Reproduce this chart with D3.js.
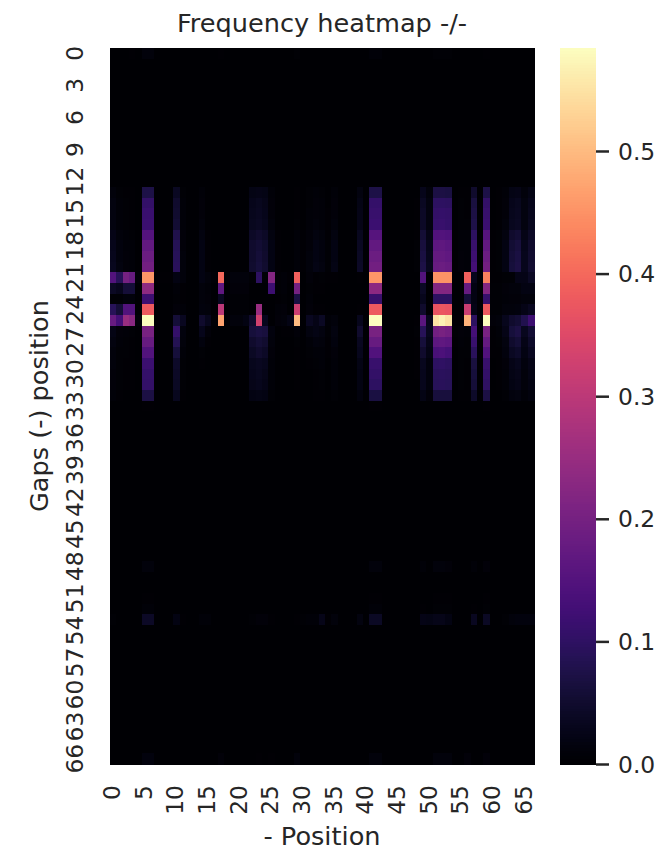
<!DOCTYPE html>
<html><head><meta charset="utf-8">
<script src="https://cdn.jsdelivr.net/npm/d3@7"></script>
<style>html,body{margin:0;padding:0;background:#fff}svg{display:block}text{font-family:"DejaVu Sans";fill:#262626}</style>
</head><body><svg id="c" width="664" height="850"></svg>
<script>
const title = "Frequency heatmap -/-";
const xTitle = "- Position";
const yTitle = "Gaps (-) position";
const nCells = 67;
const xTickValues = [0,5,10,15,20,25,30,35,40,45,50,55,60,65];
const yTickValues = [0,3,6,9,12,15,18,21,24,27,30,33,36,39,42,45,48,51,54,57,60,63,66];
const cbarTicks = [0,0.1,0.2,0.3,0.4,0.5];
const vmax = 0.584;
// cell values, thousandths, one list per non-empty row (columns 0..66, grouped by ten)
const row0  = [0,0,0,3,1,12,12,0,0,0, 0,0,0,0,0,0,0,4,0,0, 0,0,1,1,1,0,0,0,0,5, 0,0,0,0,0,0,0,0,0,1, 0,8,8,0,0,0,0,0,0,2, 1,5,5,5,0,0,1,2,0,3, 0,0,0,0,0,0,0];
const row12 = [1,0,0,0,0,2,2,0,0,0, 1,0,0,0,0,0,0,0,0,0, 0,0,1,1,1,0,0,0,0,0, 0,0,0,0,0,0,0,0,0,0, 0,2,2,0,0,0,0,0,0,1, 0,2,2,2,0,0,0,1,0,2, 0,0,0,1,1,0,1];
const row13 = [12,6,4,3,0,75,75,0,0,0, 38,5,0,0,8,2,1,1,1,1, 1,1,21,25,21,8,2,1,1,3, 1,5,8,6,2,8,0,0,0,17, 0,75,75,0,0,0,0,1,2,29, 13,72,72,70,2,4,3,50,0,75, 2,3,8,21,25,13,21];
const row14 = [16,8,5,4,1,105,105,0,0,0, 50,7,0,0,10,2,1,1,1,1, 1,1,28,32,26,10,2,1,1,4, 1,6,10,8,2,10,0,0,0,22, 0,108,108,0,0,0,0,1,3,38, 16,100,100,98,2,5,4,68,0,105, 2,3,10,28,32,16,28];
const row15 = [17,8,6,4,1,115,115,0,0,0, 52,7,0,0,11,2,1,1,1,1, 1,1,30,35,28,11,2,1,1,4, 1,7,11,9,3,11,0,0,0,24, 0,112,112,0,0,0,0,1,3,42, 18,105,108,105,2,6,4,72,0,112, 2,3,11,30,35,18,30];
const row16 = [18,9,6,4,1,118,118,0,0,0, 55,8,0,0,12,2,1,1,1,1, 1,1,32,38,30,12,2,1,1,5, 2,7,12,9,3,12,0,0,0,25, 0,118,118,0,0,0,0,1,3,42, 18,110,112,108,2,6,5,76,0,118, 2,4,12,32,38,18,32];
const row17 = [25,12,8,6,1,152,152,0,0,0, 78,10,0,0,16,3,2,1,1,2, 1,1,42,50,42,16,3,2,2,7, 3,10,16,12,4,16,1,0,0,34, 0,155,155,0,0,0,0,2,4,58, 25,148,150,145,3,8,7,100,0,155, 3,5,16,48,56,25,42];
const row18 = [28,14,9,7,1,172,172,0,0,0, 88,11,0,0,19,4,2,2,2,2, 2,2,48,56,46,19,4,2,2,8, 3,11,19,14,5,19,1,0,0,38, 0,172,172,0,0,0,0,2,5,66, 28,165,168,160,4,9,7,114,0,172, 4,6,19,56,66,28,50];
const row19 = [30,15,10,8,1,185,185,0,0,0, 90,12,0,0,20,4,2,2,2,2, 2,2,50,60,50,20,4,2,2,8, 3,12,20,15,5,20,1,0,0,40, 0,185,185,0,0,0,0,2,5,70, 30,175,175,170,4,10,8,120,0,185, 4,6,20,60,70,30,52];
const row20 = [32,16,10,8,1,195,195,0,0,0, 92,12,0,0,20,4,2,2,2,2, 2,2,52,62,52,20,4,2,2,9, 3,12,21,16,6,22,1,0,0,42, 0,195,195,0,0,0,0,2,5,74, 32,182,185,178,4,10,8,128,0,195, 4,6,20,62,72,30,54];
const row21 = [150,90,200,180,10,455,455,3,3,3, 20,12,0,0,20,12,5,400,5,12, 12,12,5,100,5,220,6,8,3,390, 0,10,3,6,4,4,0,0,0,4, 0,455,455,0,0,0,0,1,2,150, 0,450,450,450,0,0,390,30,0,430, 3,3,5,5,25,25,40];
const row22 = [40,30,60,60,2,235,235,2,2,2, 8,4,0,0,12,8,2,170,2,10, 10,10,0,0,0,120,6,8,0,200, 0,6,3,3,1,1,0,0,0,2, 0,232,232,0,0,0,0,0,1,40, 0,220,220,220,0,0,180,20,0,220, 5,5,10,12,12,20,20];
const row23 = [5,5,12,12,0,120,120,1,1,1, 6,3,0,0,12,10,1,35,1,6, 6,6,0,0,0,0,4,6,0,70, 0,8,2,2,1,1,0,0,0,2, 0,112,112,0,0,0,0,0,1,30, 0,100,100,100,0,0,60,20,0,110, 5,5,8,10,10,12,12];
const row24 = [90,60,150,150,2,380,380,1,1,1, 10,8,0,0,15,12,2,300,1,5, 5,5,0,250,0,0,8,10,2,320, 0,10,3,3,1,1,0,0,0,3, 0,380,380,0,0,0,0,0,1,50, 0,370,375,370,0,0,320,25,0,380, 6,6,12,12,15,25,35];
const row25 = [180,130,250,230,10,584,584,2,2,2, 60,35,0,0,50,30,5,470,3,12, 12,20,50,330,30,0,10,12,22,500, 0,35,25,40,8,12,1,0,0,30, 0,584,584,0,0,0,0,1,3,160, 30,550,570,550,3,3,490,100,0,584, 10,12,30,50,55,80,120];
const row26 = [22,10,8,6,1,205,205,1,1,1, 108,14,1,1,28,10,2,2,1,1, 1,1,62,70,66,14,2,4,3,10, 0,18,22,18,5,18,1,0,0,48, 0,205,205,0,0,0,0,2,5,90, 32,195,205,195,6,10,8,130,0,205, 4,8,25,62,72,32,55];
const row27 = [16,8,6,4,1,178,178,0,0,0, 85,12,0,0,14,3,1,1,1,1, 1,1,50,58,52,12,2,1,1,6, 2,9,14,12,4,14,1,0,0,36, 0,178,178,0,0,0,0,2,4,62, 26,165,170,162,3,7,6,112,0,175, 3,5,18,50,58,24,45];
const row28 = [13,6,5,4,0,150,150,0,0,0, 62,8,0,0,6,2,1,1,1,1, 1,1,40,48,42,10,2,1,1,4, 1,5,8,9,3,10,0,0,0,30, 0,148,148,0,0,0,0,1,3,50, 22,135,140,132,2,6,5,92,0,148, 3,4,14,38,44,20,35];
const row29 = [12,6,4,3,0,118,118,0,0,0, 45,6,0,0,3,1,1,1,1,1, 1,1,30,36,30,9,1,1,1,3, 1,3,5,7,2,9,0,0,0,22, 0,112,112,0,0,0,0,1,3,32, 15,100,102,98,2,5,4,68,0,112, 2,3,10,25,30,15,25];
const row30 = [11,5,3,3,0,108,108,0,0,0, 42,5,0,0,2,1,1,1,1,1, 1,1,28,32,26,8,1,1,1,3, 1,2,4,6,2,8,0,0,0,20, 0,105,105,0,0,0,0,1,3,30, 14,92,95,92,2,5,4,62,0,105, 2,3,9,22,26,13,22];
const row31 = [10,5,3,3,0,105,105,0,0,0, 40,5,0,0,2,1,1,1,1,1, 1,1,27,30,25,8,1,1,1,3, 1,2,4,6,2,8,0,0,0,20, 0,100,100,0,0,0,0,1,2,30, 14,90,92,90,2,5,4,60,0,102, 2,3,9,20,25,13,20];
const row32 = [8,3,2,2,0,72,72,0,0,0, 32,4,0,0,2,1,0,0,0,0, 0,0,20,22,20,6,1,0,0,2, 1,2,3,4,1,6,0,0,0,14, 0,70,70,0,0,0,0,1,2,22, 10,64,66,64,1,3,3,44,0,72, 1,2,6,14,16,8,14];
const row33 = [1,0,0,0,0,3,3,0,0,0, 1,0,0,0,0,0,0,0,0,0, 0,0,1,1,1,0,0,0,0,0, 0,0,0,0,0,0,0,0,0,1, 0,3,3,0,0,0,0,0,0,1, 1,2,2,2,0,0,0,2,0,3, 0,0,1,1,1,1,1];
const row48 = [1,0,0,0,0,13,13,0,0,0, 2,1,0,0,1,1,0,0,0,0, 0,0,1,1,1,0,0,0,0,1, 0,0,0,1,0,1,0,0,0,2, 0,12,12,0,0,0,0,0,0,9, 1,12,13,11,1,0,0,7,0,10, 0,0,1,2,2,2,2];
const row51 = [0,0,0,0,0,3,3,0,0,0, 1,0,0,0,0,0,0,0,0,0, 0,0,1,1,1,0,0,0,0,1, 0,0,0,1,0,0,0,0,0,1, 0,4,4,0,0,0,0,0,0,2, 0,3,3,3,0,0,0,2,0,3, 0,0,0,1,1,1,1];
const row52 = [1,0,0,0,0,7,7,0,0,0, 2,1,0,0,1,1,0,0,0,0, 0,0,2,2,2,0,0,0,0,1, 0,0,0,2,0,1,0,0,0,2, 0,7,7,0,0,0,0,0,0,4, 1,5,5,5,0,0,0,3,0,5, 0,0,1,2,2,2,2];
const row53 = [6,1,0,0,0,42,42,0,0,0, 20,3,0,0,8,8,2,2,2,2, 1,1,6,10,11,4,0,0,0,4, 6,7,7,26,4,12,0,0,0,16, 2,40,40,1,0,0,0,0,2,25, 22,26,26,20,2,1,0,36,0,40, 1,1,5,12,15,15,15];
const row66 = [2,1,0,1,0,15,15,0,0,0, 0,0,0,0,0,1,1,10,1,1, 0,0,1,4,1,3,0,0,0,12, 1,0,0,0,0,0,0,0,0,0, 0,12,12,0,0,0,0,0,0,2, 1,12,12,12,0,0,10,1,0,10, 0,0,0,0,0,0,0];
const filledRows = new Map([[0,row0],[12,row12],[13,row13],[14,row14],[15,row15],[16,row16],[17,row17],[18,row18],[19,row19],[20,row20],[21,row21],[22,row22],[23,row23],[24,row24],[25,row25],[26,row26],[27,row27],[28,row28],[29,row29],[30,row30],[31,row31],[32,row32],[33,row33],[48,row48],[51,row51],[52,row52],[53,row53],[66,row66]]);

const svg = d3.select("#c");
const plot = {l:110,r:534,t:48,b:764};
const idx = d3.range(nCells);
const x = d3.scaleBand().domain(idx).range([plot.l,plot.r]);
const y = d3.scaleBand().domain(idx).range([plot.t,plot.b]);
const color = d3.scaleSequential(d3.interpolateMagma).domain([0,vmax]);
const cells = [];
idx.forEach(r=>{const vals=filledRows.get(r);idx.forEach(c=>cells.push({r,c,v:vals?(vals[c]||0)/1000:0}));});
svg.append("g").attr("shape-rendering","crispEdges").selectAll("rect").data(cells).join("rect")
  .attr("x",d=>x(d.c)).attr("y",d=>y(d.r)).attr("width",x.bandwidth()+0.5).attr("height",y.bandwidth()+0.5)
  .attr("fill",d=>color(d.v));

const tickFont = 23.4;
const xAxis = d3.axisBottom(x).tickValues(xTickValues).tickSize(0).tickPadding(0);
const gx = svg.append("g").attr("transform",`translate(0,${plot.b})`).call(xAxis);
gx.select(".domain").remove();
gx.selectAll("text").attr("text-anchor","end").attr("dy",0).attr("y",0)
  .style("font-size",tickFont+"px").style("font-family","DejaVu Sans").attr("fill","#262626")
  .attr("dominant-baseline","central")
  .attr("transform",`translate(-1,21) rotate(-90)`);
const yAxis = d3.axisLeft(y).tickValues(yTickValues).tickSize(0).tickPadding(0);
const gy = svg.append("g").attr("transform",`translate(${plot.l},0)`).call(yAxis);
gy.select(".domain").remove();
gy.selectAll("text").attr("x",0).attr("dy",0).attr("text-anchor","middle")
  .style("font-size",tickFont+"px").style("font-family","DejaVu Sans").attr("fill","#262626")
  .attr("dominant-baseline","central")
  .attr("transform",`translate(-35,0) rotate(-90)`);

svg.append("text").attr("x",322).attr("y",32).attr("text-anchor","middle").style("font-size","25.6px").text(title);
svg.append("text").attr("x",322).attr("y",845).attr("text-anchor","middle").style("font-size","25.6px").text(xTitle);
svg.append("text").attr("transform","translate(48,406) rotate(-90)").attr("text-anchor","middle").style("font-size","25.6px").text(yTitle);

// colorbar
const cb = {l:560,r:596};
const cy = d3.scaleLinear().domain([0,vmax]).range([plot.b,plot.t]);
const levels = d3.range(256).map(i=>i/256*vmax);
svg.append("g").attr("shape-rendering","crispEdges").selectAll("rect").data(levels).join("rect")
  .attr("x",cb.l).attr("width",cb.r-cb.l)
  .attr("y",d=>cy(d+vmax/256)).attr("height",(plot.b-plot.t)/256+0.6)
  .attr("fill",d=>color(d+vmax/512));
const cAxis = d3.axisRight(cy).tickValues(cbarTicks).tickFormat(d3.format(".1f")).tickSize(13).tickPadding(9);
const gc = svg.append("g").attr("transform",`translate(${cb.r},0)`).call(cAxis);
gc.select(".domain").remove();
gc.selectAll("line").attr("stroke","#262626").attr("stroke-width",2.5);
gc.selectAll("text").style("font-size",tickFont+"px").style("font-family","DejaVu Sans").attr("fill","#262626").attr("dy","0.35em");
</script></body></html>
